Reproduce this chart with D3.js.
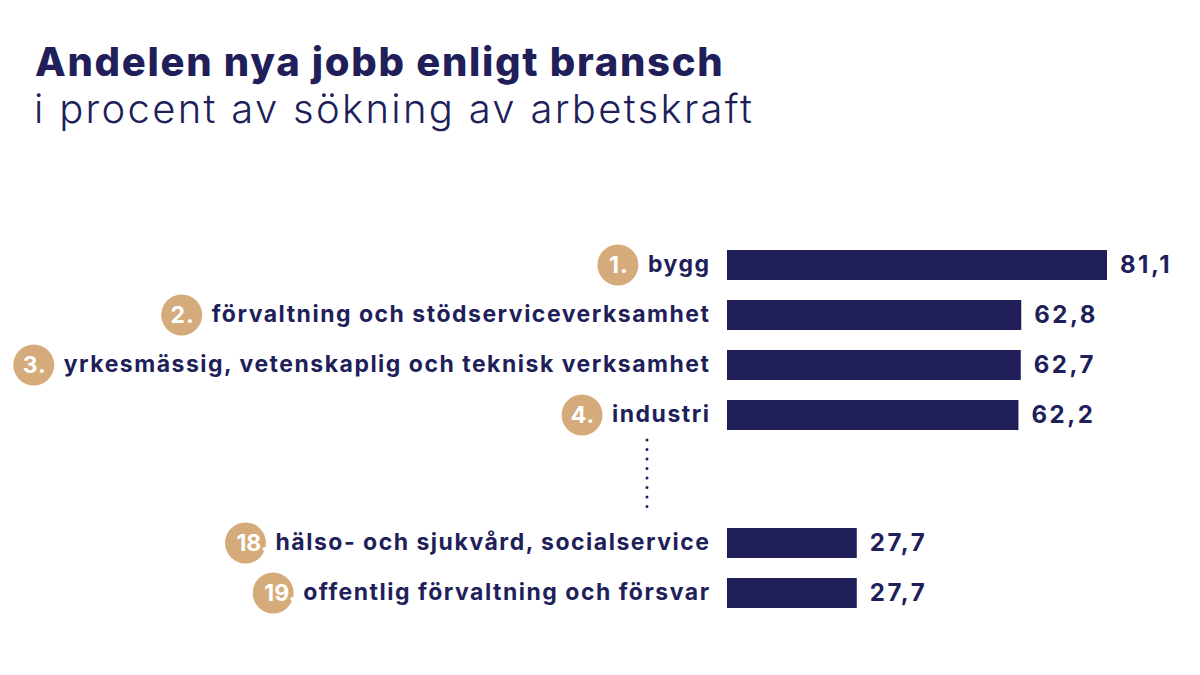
<!DOCTYPE html>
<html>
<head>
<meta charset="utf-8">
<script src="https://cdn.jsdelivr.net/npm/d3@7"></script>
<style>
  body { margin: 0; background: #fff; }
  svg { display: block; font-family: Inter, "Open Sans", sans-serif; }
</style>
</head>
<body>
<svg id="chart"></svg>
<script>
// data
const ranks = [1, 2, 3, 4, 18, 19];
const branscher = [
  "bygg",
  "förvaltning och stödserviceverksamhet",
  "yrkesmässig, vetenskaplig och teknisk verksamhet",
  "industri",
  "hälso- och sjukvård, socialservice",
  "offentlig förvaltning och försvar"
];
const andelar = [81.1, 62.8, 62.7, 62.2, 27.7, 27.7];

const width = 1200, height = 675;
const navy = "#211f5a", gold = "#d5ab7b";

const svg = d3.select("#chart")
    .attr("width", width)
    .attr("height", height);

// title
svg.append("text")
    .attr("x", 35).attr("y", 76)
    .attr("fill", navy)
    .style("font-size", "40px").style("font-weight", 800)
    .style("letter-spacing", "1.7px")
    .text("Andelen nya jobb enligt bransch");
svg.append("text")
    .attr("x", 34).attr("y", 123)
    .attr("fill", navy)
    .style("font-size", "40px").style("font-weight", 300)
    .style("letter-spacing", "2.3px")
    .text("i procent av sökning av arbetskraft");

let data = ranks.map((r, i) => ({rank: r, name: branscher[i], value: andelar[i]}));

let x = d3.scaleLinear()
    .domain([0, 81.1])
    .range([727, 1107]);

// rank -> top of bar, with a gap between 4 and 18
let y = d3.scaleLinear()
    .domain([1, 4, 18, 19])
    .range([250, 400, 528, 578]);
let barH = 30;

let fmt = d3.formatLocale({decimal: ",", thousands: " ", grouping: [3], currency: ["", ""]}).format(".1f");

//Bars
svg.selectAll("rect.bar")
    .data(data)
    .enter()
    .append("rect")
    .attr("class", "bar")
    .attr("x", x(0))
    .attr("y", d => y(d.rank))
    .attr("width", d => x(d.value) - x(0))
    .attr("height", barH)
    .attr("fill", navy);

svg.selectAll("text.val")
    .data(data)
    .enter()
    .append("text")
    .attr("class", "val")
    .attr("x", d => x(d.value) + 13)
    .attr("y", d => y(d.rank) + barH / 2)
    .attr("dy", "0.33em")
    .attr("fill", navy)
    .style("font-size", "24px").style("font-weight", 700)
    .style("letter-spacing", "2.5px")
    .text(d => fmt(d.value));

// labels with rank badges
let rows = svg.selectAll("g.row")
    .data(data)
    .enter()
    .append("g")
    .attr("class", "row");

rows.append("text")
    .attr("class", "lab")
    .attr("x", 710.5)
    .attr("y", d => y(d.rank) + barH / 2)
    .attr("dy", "0.32em")
    .attr("text-anchor", "end")
    .attr("fill", navy)
    .style("font-size", "23px").style("font-weight", 700)
    .style("letter-spacing", "1.5px")
    .text(d => d.name);

rows.each(function(d) {
    let g = d3.select(this);
    let w = g.select("text.lab").node().getComputedTextLength();
    let cx = 710.5 - w - 10 - 20;
    let cy = y(d.rank) + barH / 2;
    g.insert("circle", "text")
        .attr("cx", cx).attr("cy", cy).attr("r", 20.5)
        .attr("fill", gold);
    g.append("text")
        .attr("x", d.rank > 9 ? cx + 23 : cx + 1)
        .attr("y", cy)
        .attr("dy", "0.35em")
        .attr("text-anchor", d.rank > 9 ? "end" : "middle")
        .attr("fill", "#fff")
        .style("font-size", "23px").style("font-weight", 700)
        .style("letter-spacing", d.rank > 9 ? "0px" : "1px")
        .text(d.rank + ".");
});

// dotted separator between rank 4 and 18
svg.append("line")
    .attr("x1", 647).attr("x2", 647)
    .attr("y1", y(4) + barH + 10)
    .attr("y2", y(18) - 12)
    .attr("stroke", navy)
    .attr("stroke-width", 3)
    .attr("stroke-linecap", "round")
    .attr("stroke-dasharray", "0 9.5");
</script>
</body>
</html>
